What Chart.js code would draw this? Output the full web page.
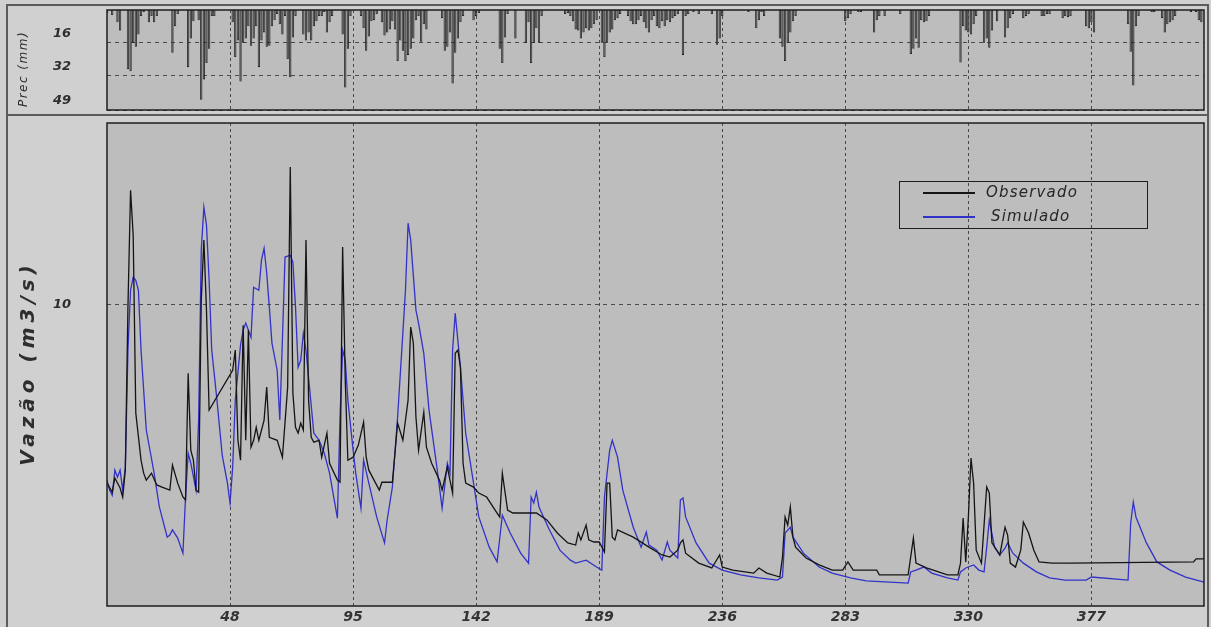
<!DOCTYPE html>
<html>
<head>
<meta charset="utf-8">
<title>Vazão observada x simulada</title>
<script src="https://cdn.jsdelivr.net/npm/chart.js@4.4.0/dist/chart.umd.min.js"></script>
<style>
    body { margin: 0; width: 1211px; height: 627px; overflow: hidden; position: relative; background: #d0d0d0; font-family: 'DejaVu Sans', sans-serif; }
    .frame { position: absolute; box-sizing: border-box; border: 2px solid #5c5c5c; }
    #precBox { left: 6px; top: 4px; width: 1203px; height: 112px; }
    #flowBox { left: 6px; top: 114px; width: 1203px; height: 520px; }
    canvas { position: absolute; }
    #precCanvas { left: 7px; top: 5px; }
    #flowCanvas { left: 7px; top: 116px; }
    .ytitle { position: absolute; white-space: nowrap; color: #2e2e2e; font-style: italic; transform: translate(-50%, -50%) rotate(-90deg); }
    #precTitle { left: 23px; top: 69px; font-size: 12px; letter-spacing: 1.5px; }
    #flowTitle { left: 27px; top: 363px; font-size: 20px; font-weight: bold; letter-spacing: 5px; }
    #legend { position: absolute; left: 899px; top: 181px; width: 249px; height: 48px; box-sizing: border-box; border: 1.5px solid #1e1e1e; }
    #legend .swatch { position: absolute; left: 23px; width: 52px; height: 1.5px; }
    #legend .lbl { position: absolute; font-style: italic; font-size: 15px; letter-spacing: 1.2px; color: #262626; line-height: 18px; }
</style>
</head>
<body>
<div class="frame" id="precBox"></div>
<div class="frame" id="flowBox"></div>
<canvas id="precCanvas" width="1201" height="110"></canvas>
<canvas id="flowCanvas" width="1201" height="511"></canvas>
<div class="ytitle" id="precTitle">Prec (mm)</div>
<div class="ytitle" id="flowTitle">Vazão (m3/s)</div>
<div id="legend">
    <div class="swatch" style="top:10px; background:#141414;"></div>
    <div class="lbl" style="left:86px; top:1px;">Observado</div>
    <div class="swatch" style="top:34px; background:#3232c8;"></div>
    <div class="lbl" style="left:91px; top:25px;">Simulado</div>
</div>
<script>
// eixo dos dias e ticks
const dayTicks = [48, 95, 142, 189, 236, 283, 330, 377];
const precTicks = [16, 32, 49];
const flowTicks = [10];

// precipitação diária [dia, mm] (dias sem chuva omitidos)
const precPairs = [
    [1,1.5],[3,2.5],[5,6],[6,10],[9,29],[10,30],[11,16],[12,18],[13,12],[14,3],[15,1],[17,6],[18,3],[19,6],[20,3],
    [26,21],[27,8],[28,2],[32,28],[33,14],[34,5.5],[36,5],[37,44],[38,34],[39,26],[40,19],[41,3],[42,3],
    [49,6],[50,23],[51,15],[52,35],[53,16],[54,14],[55,8],[56,17.5],[57,14],[58,8],[59,28],[60,15],[61,11],[62,18],
    [63,17.5],[64,8],[65,5],[66,2],[67,7],[68,12],[69,3],[70,24],[71,33],[72,13.5],[73,3],[76,12],[77,15],[78,11],
    [79,15],[80,8],[81,5.5],[82,3],[83,3],[84,1],[85,11],[86,6],[87,3],
    [91,12],[92,38],[93,19],[94,3],[98,3],[99,9],[100,20],[101,13],[102,5.5],[103,5],[104,2],[106,6],[107,12.5],
    [108,11],[109,9.5],[110,5.5],[111,9.5],[112,25],[113,15],[114,20],[115,25],[116,22],[117,19],[118,14],[119,5],
    [120,3],[121,15.5],[122,7],[123,9.5],
    [129,4],[130,20],[131,18],[132,11],[133,36],[134,21],[135,14],[136,6],[137,3],[141,5],[142,3],[143,1.5],
    [151,19],[152,26],[153,13.5],[154,2],[157,14],[161,16],[162,6],[163,26],[164,16],[165,9],[166,16],[167,3],
    [176,2],[177,1.5],[178,3],[179,5.5],[180,9.5],[181,10],[182,14],[183,11],[184,9],[185,10],[186,9],[187,7],[188,5],
    [190,16],[191,23],[192,16],[193,11],[194,9.5],[195,5],[196,4],[197,2],
    [200,3],[201,5.5],[202,7],[203,7],[204,5],[205,3],[206,6],[207,9],[208,11],[209,5],[210,3],[211,8],[212,9],
    [213,5.5],[214,8],[215,5],[216,6],[217,4],[218,3],[219,2],[221,22],[222,3],[223,2],[225,1],[227,2],
    [232,2],[234,17],[235,14],[236,3],[246,1],[249,9],[250,5],[251,1],[252,3],
    [258,14],[259,18],[260,25],[261,16],[262,11],[263,5.5],[264,3],
    [283,5.5],[284,4],[285,2],[288,1],[289,1],[294,11],[295,5],[296,3],[298,3],[304,2],
    [308,21.5],[309,19],[310,14],[311,18.5],[312,5],[313,6],[314,5.5],[315,3],
    [327,25.7],[328,8],[329,10],[330,11],[331,12],[332,7],[333,3],[336,16],[337,14],[338,18.5],[339,10],[341,5.5],
    [344,13.5],[345,9],[346,4],[347,2],[351,4],[352,3],[353,2],[358,3],[359,3],[360,2],[361,2],
    [366,4],[367,3],[368,3.5],[369,3],[375,8],[376,9],[377,6],[378,11],
    [391,7],[392,20.5],[393,37],[394,8],[395,3],[400,1],[401,1],[404,4],[405,11],[406,7],[407,6],[408,5],[409,3],
    [415,1],[417,1],[418,5],[419,6]
];

// vazão observada [dia, m3/s]
const obsPairs = [
    [1,4.07],[3,3.77],[4,4.24],[6,3.91],[7,3.61],[8,4.50],[9,9.90],[10,13.77],[11,12.28],[12,6.39],[14,4.83],
    [15,4.40],[16,4.17],[18,4.40],[20,4.01],[22,3.94],[25,3.84],[26,4.67],[28,4.07],[30,3.61],[31,3.51],[32,7.71],
    [33,5.16],[34,4.83],[35,3.84],[36,3.77],[37,10.13],[38,12.12],[39,9.80],[40,6.49],[49,7.81],[50,8.48],[51,5.49],
    [52,4.83],[53,9.30],[54,5.49],[55,9.14],[56,5.26],[57,5.49],[58,5.92],[59,5.49],[61,6.16],[62,7.25],[63,5.59],
    [66,5.49],[68,4.93],[70,7.25],[71,14.54],[72,7.05],[73,5.92],[74,5.73],[75,6.06],[76,5.83],[77,12.12],[78,6.82],
    [79,5.59],[80,5.43],[82,5.49],[83,4.93],[85,5.73],[86,4.73],[89,4.17],[90,4.10],[91,11.89],[92,7.48],[93,4.83],
    [95,4.93],[97,5.33],[99,6.09],[100,4.93],[101,4.50],[105,3.84],[106,4.10],[110,4.10],[112,6.06],[114,5.49],
    [116,6.82],[117,9.24],[118,8.71],[119,6.26],[120,5.16],[122,6.42],[123,5.26],[125,4.73],[128,4.17],[129,3.84],
    [131,4.60],[133,3.74],[134,8.37],[135,8.48],[136,7.91],[137,4.73],[138,4.07],[141,3.94],[143,3.74],[146,3.61],
    [150,3.08],[151,2.95],[152,4.40],[154,3.18],[156,3.08],[165,3.08],[169,2.85],[173,2.42],[177,2.09],[180,2.02],
    [181,2.42],[182,2.19],[184,2.68],[185,2.19],[187,2.12],[189,2.12],[191,1.79],[192,4.07],[193,4.07],[194,2.28],
    [195,2.19],[196,2.52],[202,2.28],[208,1.95],[213,1.69],[216,1.62],[219,1.85],[220,2.09],[221,2.19],[222,1.75],
    [227,1.42],[232,1.26],[235,1.69],[236,1.29],[240,1.19],[248,1.09],[250,1.26],[253,1.09],[258,0.96],[259,1.62],
    [260,2.95],[261,2.68],[262,3.28],[263,2.28],[264,1.95],[268,1.59],[273,1.36],[278,1.19],[282,1.19],[284,1.46],
    [286,1.19],[295,1.19],[296,1.03],[307,1.03],[309,2.25],[310,1.42],[314,1.26],[322,1.03],[326,1.03],[327,1.42],
    [328,2.91],[329,1.46],[330,2.95],[331,4.90],[332,4.07],[333,1.85],[335,1.42],[337,3.94],[338,3.74],[339,2.09],
    [342,1.69],[344,2.61],[345,2.35],[346,1.42],[348,1.29],[350,1.85],[351,2.78],[353,2.42],[355,1.85],[357,1.46],
    [362,1.42],[369,1.42],[416,1.46],[417,1.56],[420,1.56]
];

// vazão simulada [dia, m3/s]
const simPairs = [
    [1,4.17],[2,3.84],[3,3.67],[4,4.50],[5,4.27],[6,4.50],[7,3.84],[8,4.60],[9,8.48],[10,10.46],[11,10.89],
    [12,10.79],[13,10.46],[14,8.48],[16,5.83],[19,4.40],[21,3.28],[24,2.28],[25,2.35],[26,2.52],[28,2.25],[30,1.75],
    [31,3.61],[32,5.06],[33,4.73],[35,3.84],[36,6.16],[37,11.79],[38,13.21],[39,12.62],[40,10.79],[41,8.48],[43,6.82],
    [45,5.00],[47,4.07],[48,3.41],[49,4.60],[50,6.82],[52,8.64],[53,9.14],[54,9.37],[56,8.90],[57,10.56],[59,10.46],
    [60,11.46],[61,11.85],[62,11.03],[63,9.90],[64,8.71],[66,7.81],[67,6.16],[68,8.81],[69,11.56],[71,11.62],
    [72,11.39],[73,9.90],[74,7.91],[75,8.14],[76,9.04],[77,8.48],[80,5.73],[82,5.49],[84,5.06],[86,4.40],[89,2.91],
    [90,6.26],[91,8.48],[92,8.14],[93,6.82],[95,5.16],[96,4.40],[98,3.24],[99,4.83],[101,4.07],[104,2.95],[107,2.09],
    [108,2.85],[110,3.94],[112,6.26],[114,9.04],[115,10.46],[116,12.68],[117,12.12],[119,9.80],[120,9.37],[122,8.37],
    [124,6.49],[127,4.60],[129,3.24],[131,4.73],[132,4.40],[133,8.48],[134,9.70],[136,7.91],[138,5.73],[141,4.07],
    [143,2.95],[147,1.95],[150,1.46],[152,3.01],[155,2.42],[159,1.75],[162,1.42],[163,3.61],[164,3.41],[165,3.77],
    [166,3.28],[170,2.52],[174,1.85],[178,1.52],[180,1.42],[184,1.52],[188,1.29],[190,1.19],[191,3.61],[193,5.16],
    [194,5.49],[196,4.93],[198,3.84],[202,2.61],[205,1.95],[207,2.45],[208,2.02],[211,1.85],[213,1.52],[215,2.12],
    [216,1.85],[219,1.59],[220,3.51],[221,3.58],[222,2.95],[226,2.09],[231,1.42],[236,1.19],[243,1.03],[250,0.93],
    [257,0.86],[259,0.96],[260,2.42],[262,2.61],[263,2.28],[267,1.75],[273,1.29],[278,1.09],[285,0.93],[291,0.83],
    [307,0.76],[308,1.13],[310,1.19],[313,1.29],[316,1.09],[322,0.93],[326,0.86],[327,1.13],[329,1.26],[332,1.36],
    [334,1.19],[336,1.13],[337,1.95],[338,2.85],[340,1.95],[342,1.69],[344,1.92],[345,2.09],[347,1.75],[351,1.42],
    [356,1.13],[361,0.93],[367,0.86],[375,0.86],[377,0.96],[391,0.86],[392,2.75],[393,3.44],[394,2.95],[398,2.09],
    [402,1.46],[407,1.19],[413,0.96],[420,0.79]
];

const toXY = pairs => pairs.map(p => ({ x: p[0], y: p[1] }));

// fundo cinza da área de plotagem e moldura
const plotFrame = {
    id: 'plotFrame',
    beforeDraw(chart) {
        const { ctx, chartArea: a } = chart;
        ctx.save();
        ctx.fillStyle = '#bdbdbd';
        ctx.fillRect(a.left, a.top, a.width, a.height);
        ctx.restore();
    },
    afterDraw(chart) {
        const { ctx, chartArea: a } = chart;
        ctx.save();
        ctx.strokeStyle = '#1e1e1e';
        ctx.lineWidth = 1.5;
        ctx.strokeRect(a.left, a.top, a.width, a.height);
        ctx.restore();
    }
};

const tickFont = { family: 'DejaVu Sans', size: 13, style: 'italic', weight: 'bold' };

// tamanho fixo das escalas, sem o padding extra que o Chart.js soma nas pontas
function fixWidth(w) {
    return ax => { ax.width = w; ax.paddingTop = 0; ax.paddingBottom = 0; };
}
function fixHeight(h) {
    return ax => { ax.height = h; ax.paddingLeft = 0; ax.paddingRight = 0; };
}

function dayAxis(showLabels, height) {
    return {
        type: 'linear', min: 1, max: 420, offset: false,
        afterBuildTicks: ax => { ax.ticks = dayTicks.map(v => ({ value: v })); },
        afterFit: fixHeight(height),
        ticks: { display: showLabels, autoSkip: false, maxRotation: 0, padding: 3, color: '#333', font: { ...tickFont, size: 14 } },
        grid: { color: '#4a4a4a', lineWidth: 1, drawTicks: false, offset: false },
        border: { display: false, dash: [3, 3] }
    };
}

// precipitação (barras pendentes do topo)
new Chart(document.getElementById('precCanvas'), {
    type: 'bar',
    data: {
        datasets: [{
            label: 'Prec',
            data: toXY(precPairs),
            backgroundColor: '#4a4a4a',
            borderColor: '#161616',
            borderWidth: 0.8,
            barPercentage: 0.88,
            categoryPercentage: 1
        }]
    },
    options: {
        responsive: false, animation: false, devicePixelRatio: 1,
        layout: { padding: { top: 5, right: 4, left: 0, bottom: 0 } },
        plugins: { legend: { display: false }, tooltip: { enabled: false } },
        scales: {
            x: dayAxis(false, 5),
            y: {
                type: 'linear', reverse: true, min: 0, max: 49,
                afterBuildTicks: ax => { ax.ticks = precTicks.map(v => ({ value: v })); },
                afterFit: fixWidth(100),
                ticks: { padding: 36, labelOffset: -9, color: '#2e2e2e', font: tickFont },
                grid: { color: '#4a4a4a', lineWidth: 1, drawTicks: false },
                border: { display: false, dash: [4, 4] }
            }
        }
    },
    plugins: [plotFrame]
});

// vazões observada e simulada
new Chart(document.getElementById('flowCanvas'), {
    type: 'line',
    data: {
        datasets: [
            { label: 'Observado', data: toXY(obsPairs), borderColor: '#141414', borderWidth: 1.3, pointRadius: 0, tension: 0 },
            { label: 'Simulado', data: toXY(simPairs), borderColor: '#3232c8', borderWidth: 1.3, pointRadius: 0, tension: 0 }
        ]
    },
    options: {
        responsive: false, animation: false, devicePixelRatio: 1,
        layout: { padding: { top: 7, right: 4, left: 0, bottom: 0 } },
        plugins: { legend: { display: false }, tooltip: { enabled: false } },
        scales: {
            x: dayAxis(true, 21),
            y: {
                type: 'linear', min: 0, max: 16,
                afterBuildTicks: ax => { ax.ticks = flowTicks.map(v => ({ value: v })); },
                afterFit: fixWidth(100),
                ticks: { padding: 36, color: '#2e2e2e', font: tickFont },
                grid: { color: '#4a4a4a', lineWidth: 1, drawTicks: false },
                border: { display: false, dash: [4, 4] }
            }
        }
    },
    plugins: [plotFrame]
});
</script>
</body>
</html>
